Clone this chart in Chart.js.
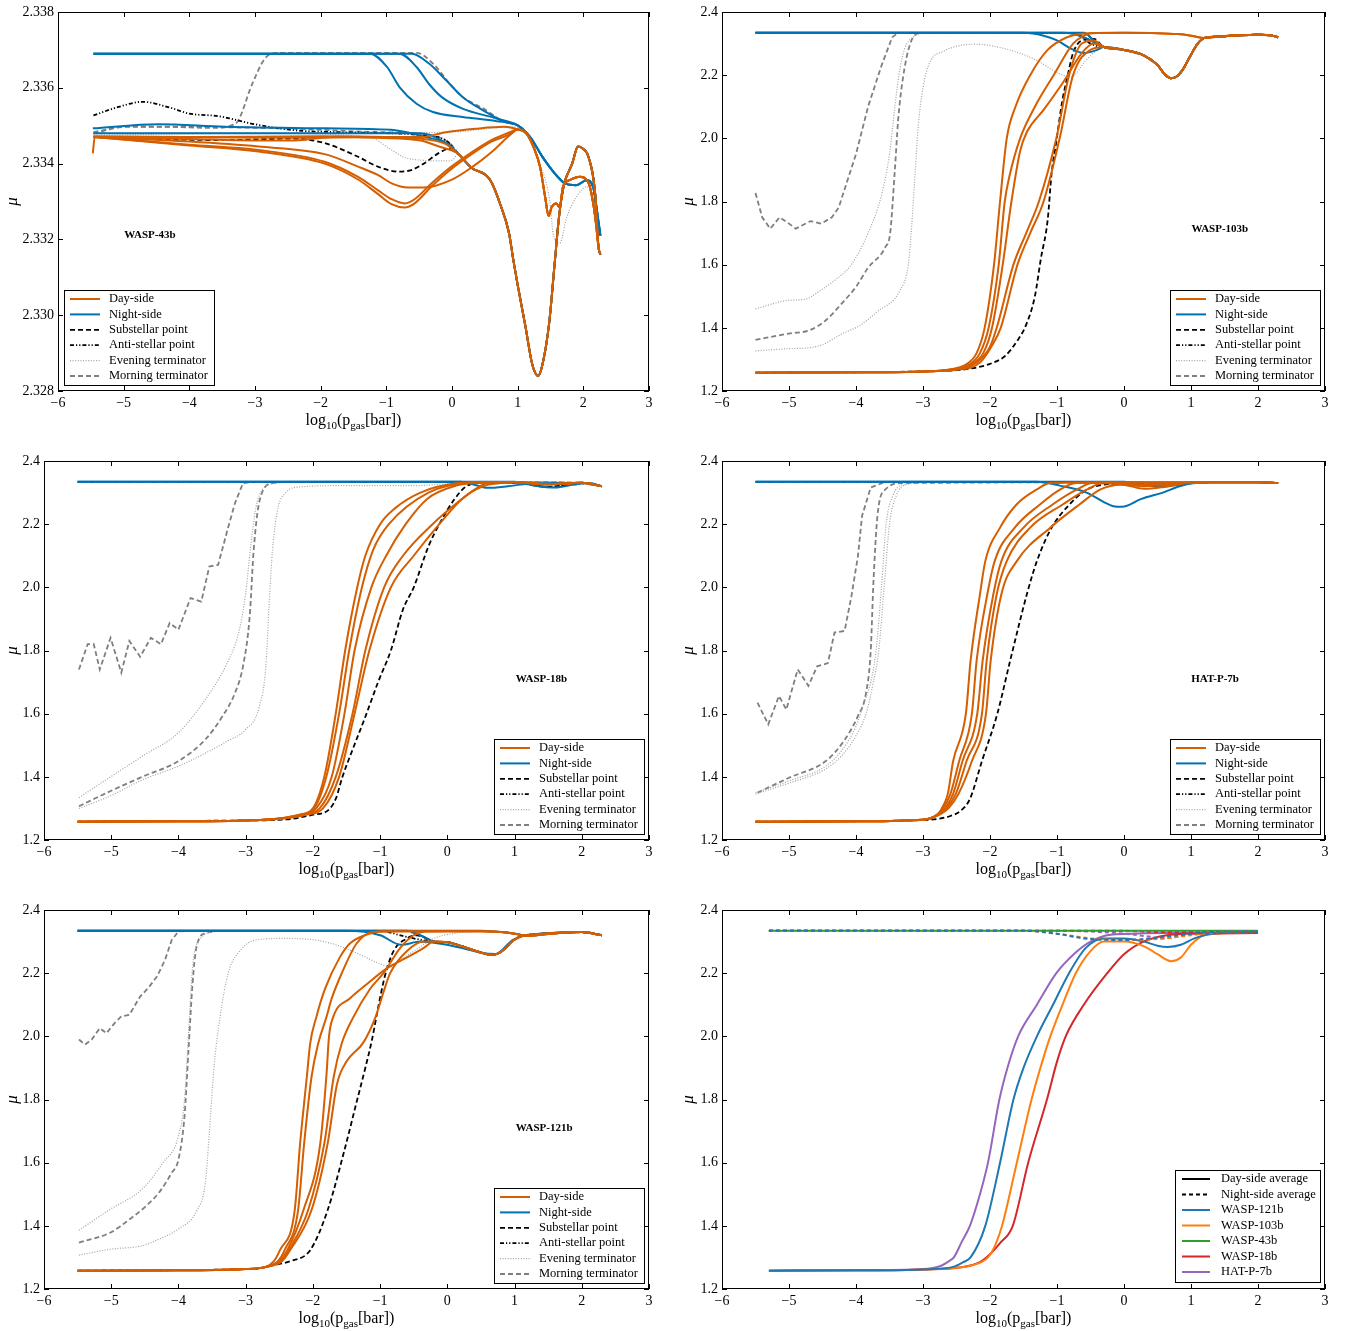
<!DOCTYPE html>
<html>
<head>
<meta charset="utf-8">
<title>Mean molecular weight profiles</title>
<script src="https://cdn.jsdelivr.net/npm/chart.js@4.4.1/dist/chart.umd.min.js"></script>
<style>
  html, body { margin: 0; padding: 0; background: #fff; }
  body { position: relative; width: 1350px; height: 1331px; overflow: hidden; }
  canvas { position: absolute; }
</style>
</head>
<body>
<canvas id="wasp43"></canvas>
<canvas id="wasp103"></canvas>
<canvas id="wasp18"></canvas>
<canvas id="hatp7"></canvas>
<canvas id="wasp121"></canvas>
<canvas id="averages"></canvas>
<script>
// Profiles: x = log10(p_gas [bar]), y = mean molecular weight mu
// Each curve is a list of [x, y] points.

// ---------- WASP-43b ----------
const W43_TAIL_TOP = [[1.0,2.33501],[1.19,2.3347],[1.38,2.33417],[1.57,2.33373],[1.73,2.33347],[1.89,2.33343],[2.05,2.33356],[2.15,2.33338],[2.22,2.3326],[2.26,2.3321]];
const W43_TAIL_DEEP = [[0.1,2.33425],[0.29,2.3339],[0.58,2.33357],[0.74,2.3329],[0.87,2.33215],[0.93,2.3315],[1.0,2.3308],[1.12,2.32969],[1.22,2.32872],[1.31,2.3284],[1.38,2.32872],[1.48,2.3298],[1.56,2.3313],[1.63,2.3326],[1.70,2.3334],[1.83,2.334],[1.92,2.33445],[1.99,2.3344],[2.08,2.33417],[2.18,2.33321],[2.23,2.33181],[2.26,2.3316]];
const W43_TAIL_SIDE = [[1.0,2.3349],[1.14,2.33478],[1.25,2.3344],[1.34,2.33392],[1.42,2.3331],[1.47,2.33262],[1.52,2.33286],[1.59,2.33295],[1.64,2.33284],[1.69,2.33339],[1.80,2.33357],[1.95,2.33365],[2.05,2.33357],[2.10,2.33339],[2.18,2.3326],[2.23,2.3318]];
const W43_TAIL_EVE = [[1.0,2.33497],[1.2,2.33465],[1.34,2.334],[1.49,2.3330],[1.54,2.33216],[1.64,2.3319],[1.75,2.3326],[1.90,2.33313],[2.05,2.33339],[2.13,2.33313],[2.23,2.3318]];

const W43_DAY = [
  [[-5.47,2.33427],[-5.44,2.3347],[-4.5,2.3347],[-2.5,2.33468],[-1.0,2.3347],[-0.48,2.3347],[-0.09,2.33483],[0.36,2.33492],[0.8,2.33497], ...W43_TAIL_SIDE],
  [[-5.46,2.33472],[-4.0,2.3347],[-2.0,2.33472],[-1.0,2.3347],[-0.5,2.33466],[-0.1,2.33452], ...W43_TAIL_DEEP],
  [[-5.46,2.3347],[-4.0,2.33465],[-3.04,2.33461],[-2.4,2.33461],[-1.76,2.33471],[-1.12,2.33468],[-0.48,2.33461],[-0.2,2.33445], ...W43_TAIL_DEEP],
  [[-5.46,2.3347],[-4.0,2.33458],[-2.95,2.33445],[-1.94,2.33425],[-1.43,2.33392],[-1.13,2.3337],[-0.92,2.33348],[-0.67,2.33337],[-0.42,2.33337],[-0.01,2.33357],[0.3,2.3339],[0.6,2.3343],[0.9,2.33478], ...W43_TAIL_SIDE],
  [[-5.46,2.3347],[-4.0,2.3345],[-2.95,2.33436],[-1.94,2.33405],[-1.43,2.33365],[-1.13,2.3333],[-0.92,2.33306],[-0.72,2.33295],[-0.57,2.33306],[-0.31,2.33348],[-0.01,2.33392],[0.3,2.3343],[0.6,2.33462],[0.87,2.33482], ...W43_TAIL_SIDE],
  [[-5.46,2.3347],[-4.0,2.33448],[-2.95,2.33432],[-1.94,2.334],[-1.43,2.33358],[-1.13,2.3332],[-0.92,2.33293],[-0.72,2.33284],[-0.57,2.33295],[-0.31,2.3334],[-0.01,2.33386],[0.3,2.33425],[0.6,2.33458],[0.85,2.33475], ...W43_TAIL_SIDE]
];
const W43_NIGHT = [
  [[-5.46,2.3369],[-1.25,2.3369],[-0.99,2.33655],[-0.80,2.33602],[-0.54,2.33558],[-0.29,2.33536],[0.16,2.33523],[0.68,2.33512], ...W43_TAIL_TOP],
  [[-5.46,2.3369],[-0.8,2.3369],[-0.54,2.33655],[-0.35,2.3361],[-0.16,2.33576],[0.16,2.33545],[0.68,2.33519], ...W43_TAIL_TOP],
  [[-5.46,2.3369],[-0.61,2.3369],[-0.35,2.33664],[-0.09,2.3362],[0.16,2.33576],[0.48,2.3354],[0.8,2.3351], ...W43_TAIL_TOP],
  [[-5.47,2.33493],[-4.48,2.33504],[-3.46,2.33497],[-1.94,2.33493],[-0.93,2.33489],[-0.42,2.33471],[-0.05,2.3345], ...W43_TAIL_DEEP],
  [[-5.46,2.3348],[-3.0,2.3348],[-0.48,2.3348],[-0.16,2.33461], ...W43_TAIL_DEEP]
];
const W43_SUB = [
  [[-5.46,2.3347],[-3.5,2.33462],[-2.4,2.33466],[-1.94,2.33454],[-1.43,2.33418],[-1.13,2.33392],[-0.82,2.33379],[-0.62,2.33383],[-0.42,2.33401],[-0.21,2.33427],[-0.02,2.3344], ...W43_TAIL_DEEP]
];
const W43_ANTI = [
  [[-5.46,2.33527],[-5.09,2.33549],[-4.71,2.33563],[-4.32,2.33549],[-4.0,2.33532],[-3.55,2.33525],[-3.04,2.33505],[-2.4,2.33488],[-1.76,2.33483],[-1.12,2.33481],[-0.48,2.33475],[-0.09,2.33461], ...W43_TAIL_DEEP]
];
const W43_EVE = [
  [[-5.46,2.33475],[-3.0,2.3348],[-1.25,2.3347],[-0.99,2.33444],[-0.73,2.33417],[-0.48,2.33409],[-0.09,2.33407],[0.0,2.33409], ...W43_TAIL_DEEP],
  [[-5.46,2.3348],[-1.1,2.33481],[0.0,2.33483],[0.58,2.33493],[0.85,2.33497], ...W43_TAIL_EVE]
];
const W43_MORN = [
  [[-5.46,2.33483],[-4.96,2.33497],[-4.32,2.33497],[-3.68,2.33494],[-3.3,2.33505],[-3.04,2.33611],[-2.85,2.33677],[-2.66,2.33692],[-0.54,2.33692],[-0.29,2.33664],[-0.03,2.3361],[0.16,2.33576],[0.48,2.33545],[0.8,2.3351], ...W43_TAIL_TOP],
  [[-5.46,2.33479],[-4.96,2.33498],[-4.0,2.33497],[-2.4,2.33492],[-1.12,2.33483],[-0.48,2.33479],[-0.03,2.33453], ...W43_TAIL_DEEP]
];

// ---------- WASP-103b ----------
const W103_DIP = [[-0.3,2.289],[0.0,2.28],[0.3,2.262],[0.5,2.232],[0.6,2.205],[0.7,2.19],[0.78,2.195],[0.87,2.215],[1.0,2.265],[1.1,2.30],[1.2,2.318],[1.4,2.322],[1.7,2.326],[2.0,2.328],[2.2,2.326],[2.3,2.32]];
const W103_PLATEAU = [[-0.5,2.333],[0.0,2.334],[0.5,2.333],[0.8,2.33],[1.0,2.325],[1.2,2.318],[1.4,2.322],[1.7,2.326],[2.0,2.328],[2.2,2.326],[2.3,2.32]];
const W103_DAY = [
  [[-5.5,1.258],[-4,1.259],[-3,1.262],[-2.6,1.268],[-2.35,1.285],[-2.2,1.32],[-2.08,1.4],[-1.94,1.6],[-1.85,1.8],[-1.75,2.0],[-1.62,2.1],[-1.4,2.2],[-1.14,2.28],[-0.85,2.32],[-0.6,2.332], ...W103_PLATEAU],
  [[-5.5,1.258],[-4,1.259],[-3,1.262],[-2.6,1.267],[-2.3,1.285],[-2.15,1.32],[-2.02,1.4],[-1.87,1.6],[-1.78,1.8],[-1.71,1.88],[-1.55,2.0],[-1.33,2.1],[-1.05,2.2],[-0.76,2.3],[-0.6,2.325], ...W103_PLATEAU],
  [[-5.5,1.258],[-4,1.259],[-3,1.262],[-2.6,1.267],[-2.3,1.283],[-2.1,1.32],[-1.97,1.4],[-1.81,1.6],[-1.68,1.8],[-1.55,1.96],[-1.45,2.02],[-1.2,2.09],[-0.9,2.18],[-0.63,2.27],[-0.45,2.3], ...W103_DIP],
  [[-5.5,1.258],[-4,1.259],[-3,1.262],[-2.5,1.268],[-2.2,1.29],[-2.0,1.34],[-1.90,1.4],[-1.65,1.6],[-1.46,1.7],[-1.27,1.8],[-1.01,2.0],[-0.82,2.2],[-0.63,2.3],[-0.45,2.31], ...W103_DIP],
  [[-5.5,1.258],[-4,1.259],[-3,1.262],[-2.5,1.267],[-2.15,1.29],[-1.98,1.34],[-1.84,1.4],[-1.59,1.6],[-1.4,1.7],[-1.2,1.8],[-0.96,2.0],[-0.76,2.2],[-0.5,2.28], ...W103_DIP]
];
const W103_NIGHT = [
  [[-5.5,2.334],[-1.5,2.334],[-1.2,2.325],[-1.0,2.31],[-0.8,2.285],[-0.6,2.27],[-0.4,2.28], ...W103_DIP],
  [[-5.5,2.334],[-0.9,2.334],[-0.6,2.32],[-0.4,2.298], ...W103_DIP],
  [[-5.5,2.334],[-0.6,2.334],[-0.45,2.31], ...W103_DIP]
];
const W103_SUB = [
  [[-5.5,1.258],[-3,1.262],[-2.5,1.266],[-2.16,1.276],[-1.95,1.29],[-1.78,1.31],[-1.59,1.36],[-1.46,1.41],[-1.33,1.50],[-1.24,1.62],[-1.14,1.74],[-1.08,1.89],[-1.01,1.99],[-0.92,2.12],[-0.85,2.19],[-0.76,2.27],[-0.63,2.31],[-0.45,2.315], ...W103_DIP]
];
const W103_ANTI = [
  [[-5.5,2.334],[-1.0,2.334],[-0.7,2.33],[-0.5,2.30],[-0.4,2.292], ...W103_DIP]
];
const W103_EVE = [
  [[-5.5,1.46],[-5.0,1.487],[-4.77,1.49],[-4.52,1.52],[-4.32,1.55],[-4.07,1.60],[-3.82,1.70],[-3.62,1.82],[-3.5,1.95],[-3.42,2.1],[-3.36,2.2],[-3.28,2.28],[-3.15,2.32],[-2.9,2.334],[-0.6,2.334],[-0.45,2.31], ...W103_DIP],
  [[-5.5,1.327],[-5.0,1.334],[-4.7,1.337],[-4.52,1.345],[-4.2,1.382],[-3.94,1.408],[-3.69,1.45],[-3.34,1.52],[-3.22,1.60],[-3.17,1.72],[-3.13,1.85],[-3.07,2.04],[-3.0,2.16],[-2.9,2.24],[-2.7,2.275],[-2.45,2.294],[-2.22,2.298],[-1.78,2.284],[-1.33,2.25],[-1.01,2.21],[-0.79,2.194],[-0.57,2.247],[-0.4,2.28], ...W103_DIP]
];
const W103_MORN = [
  [[-5.5,1.827],[-5.4,1.75],[-5.28,1.714],[-5.14,1.75],[-5.0,1.73],[-4.9,1.714],[-4.68,1.738],[-4.52,1.73],[-4.36,1.75],[-4.26,1.78],[-4.0,1.95],[-3.82,2.10],[-3.62,2.23],[-3.46,2.32],[-3.37,2.334],[-0.6,2.334],[-0.45,2.31], ...W103_DIP],
  [[-5.5,1.362],[-5.0,1.382],[-4.7,1.392],[-4.45,1.424],[-4.2,1.48],[-4.0,1.53],[-3.82,1.59],[-3.56,1.656],[-3.49,1.70],[-3.42,1.9],[-3.37,2.06],[-3.3,2.19],[-3.19,2.30],[-3.04,2.334],[-0.6,2.334],[-0.45,2.31], ...W103_DIP]
];

// ---------- WASP-18b ----------
const W18_END = [[1.0,2.333],[1.5,2.326],[2.0,2.331],[2.3,2.32]];
const W18_DAY = [
  [[-5.5,1.258],[-4,1.259],[-3,1.262],[-2.5,1.268],[-2.2,1.28],[-2.0,1.30],[-1.83,1.4],[-1.66,1.6],[-1.52,1.8],[-1.34,2.0],[-1.22,2.1],[-1.0,2.2],[-0.78,2.25],[-0.4,2.3],[0.16,2.33],[0.5,2.333], ...W18_END],
  [[-5.5,1.258],[-4,1.259],[-3,1.262],[-2.5,1.268],[-2.2,1.279],[-2.0,1.295],[-1.8,1.4],[-1.61,1.6],[-1.46,1.8],[-1.27,2.0],[-1.1,2.12],[-0.87,2.2],[-0.28,2.3],[0.3,2.33],[0.6,2.333], ...W18_END],
  [[-5.5,1.258],[-4,1.259],[-3,1.262],[-2.5,1.267],[-2.2,1.278],[-1.95,1.30],[-1.72,1.4],[-1.53,1.6],[-1.38,1.8],[-1.13,2.0],[-0.91,2.1],[-0.62,2.2],[-0.3,2.28],[0.1,2.32],[0.4,2.33], ...W18_END],
  [[-5.5,1.258],[-4,1.259],[-3,1.262],[-2.5,1.267],[-2.15,1.28],[-1.9,1.30],[-1.66,1.4],[-1.41,1.6],[-1.22,1.8],[-0.94,2.0],[-0.66,2.1],[-0.22,2.2],[0.16,2.27],[0.41,2.31],[0.6,2.33], ...W18_END],
  [[-5.5,1.258],[-4,1.259],[-3,1.262],[-2.5,1.267],[-2.1,1.28],[-1.85,1.30],[-1.61,1.4],[-1.38,1.6],[-1.16,1.8],[-0.84,2.0],[-0.5,2.1],[-0.12,2.2],[0.22,2.28],[0.53,2.32],[0.8,2.33], ...W18_END]
];
const W18_NIGHT = [
  [[-5.5,2.334],[0.2,2.334],[0.4,2.325],[0.6,2.315],[0.9,2.32],[1.2,2.328],[1.6,2.33],[2.0,2.331],[2.3,2.32]],
  [[-5.5,2.334],[1.0,2.334],[1.3,2.322],[1.6,2.316],[1.9,2.326],[2.1,2.33],[2.3,2.32]]
];
const W18_SUB = [
  [[-5.5,1.258],[-3,1.262],[-2.4,1.265],[-2.0,1.28],[-1.78,1.293],[-1.66,1.33],[-1.56,1.4],[-1.41,1.486],[-1.22,1.59],[-1.03,1.70],[-0.84,1.8],[-0.66,1.93],[-0.5,2.0],[-0.28,2.13],[-0.12,2.2],[0.1,2.277],[0.28,2.32],[0.47,2.33],[1.0,2.332],[1.5,2.318],[2.0,2.33],[2.3,2.32]]
];
const W18_ANTI = [
  [[-5.5,2.334],[0.3,2.334],[0.6,2.33],[1.0,2.33],[1.5,2.318],[1.9,2.326],[2.1,2.33],[2.3,2.32]]
];
const W18_EVE = [
  [[-5.48,1.334],[-5.01,1.40],[-4.54,1.465],[-4.0,1.54],[-3.6,1.645],[-3.3,1.75],[-3.1,1.86],[-3.0,1.98],[-2.93,2.12],[-2.85,2.25],[-2.75,2.31],[-2.55,2.33],[-2.3,2.334],[1.0,2.334],[2.0,2.33],[2.3,2.32]],
  [[-5.48,1.30],[-5.01,1.34],[-4.54,1.39],[-4.0,1.434],[-3.6,1.475],[-3.3,1.51],[-3.0,1.55],[-2.8,1.62],[-2.7,1.75],[-2.65,1.95],[-2.6,2.12],[-2.52,2.25],[-2.4,2.3],[-2.2,2.318],[-1.5,2.322],[-0.5,2.322],[0.2,2.33],[1.0,2.333],[2.0,2.33],[2.3,2.32]]
];
const W18_MORN = [
  [[-5.48,1.74],[-5.35,1.82],[-5.26,1.82],[-5.17,1.74],[-5.01,1.84],[-4.85,1.73],[-4.73,1.83],[-4.57,1.78],[-4.41,1.84],[-4.26,1.82],[-4.13,1.887],[-4.0,1.866],[-3.82,1.966],[-3.66,1.955],[-3.54,2.066],[-3.41,2.071],[-3.26,2.19],[-3.16,2.266],[-3.04,2.33],[-2.9,2.334],[1.0,2.334],[2.0,2.33],[2.3,2.32]],
  [[-5.48,1.307],[-5.01,1.355],[-4.54,1.40],[-4.0,1.45],[-3.6,1.518],[-3.35,1.59],[-3.16,1.665],[-3.04,1.75],[-2.94,1.908],[-2.88,2.12],[-2.79,2.277],[-2.6,2.33],[-2.3,2.334],[1.0,2.334],[2.0,2.33],[2.3,2.32]]
];

// ---------- HAT-P-7b ----------
const HP7_END = [[1.3,2.333],[2.0,2.333],[2.3,2.33]];
const HP7_DAY = [
  [[-5.5,1.258],[-4,1.259],[-3.0,1.264],[-2.9,1.268],[-2.78,1.282],[-2.72,1.30],[-2.63,1.346],[-2.55,1.45],[-2.36,1.6],[-2.29,1.767],[-2.15,1.978],[-2.07,2.083],[-1.85,2.189],[-1.6,2.263],[-1.3,2.31],[-1.1,2.33],[0.0,2.333], ...HP7_END],
  [[-5.5,1.258],[-4,1.259],[-3.0,1.264],[-2.9,1.268],[-2.78,1.282],[-2.70,1.30],[-2.59,1.346],[-2.46,1.45],[-2.27,1.6],[-2.20,1.767],[-2.04,1.978],[-1.93,2.083],[-1.63,2.189],[-1.25,2.263],[-0.95,2.31],[-0.72,2.33],[0.2,2.333],[0.5,2.328], ...HP7_END],
  [[-5.5,1.258],[-4,1.259],[-3.0,1.264],[-2.9,1.268],[-2.76,1.282],[-2.67,1.30],[-2.55,1.346],[-2.41,1.45],[-2.19,1.6],[-2.11,1.767],[-1.95,1.978],[-1.83,2.083],[-1.50,2.189],[-1.06,2.263],[-0.7,2.31],[-0.47,2.33],[0.0,2.325],[0.3,2.312],[0.6,2.318],[1.0,2.332], ...HP7_END],
  [[-5.5,1.258],[-4,1.259],[-3.0,1.264],[-2.9,1.268],[-2.75,1.282],[-2.65,1.30],[-2.51,1.346],[-2.35,1.45],[-2.12,1.6],[-2.05,1.767],[-1.90,1.978],[-1.75,2.083],[-1.40,2.189],[-0.91,2.263],[-0.55,2.31],[-0.3,2.33],[0.5,2.325],[1.0,2.332], ...HP7_END],
  [[-5.5,1.258],[-4,1.259],[-3.0,1.264],[-2.9,1.268],[-2.74,1.282],[-2.62,1.30],[-2.47,1.346],[-2.27,1.45],[-2.06,1.6],[-1.99,1.767],[-1.83,1.978],[-1.60,2.083],[-1.10,2.189],[-0.66,2.263],[-0.35,2.31],[-0.05,2.325],[0.3,2.32],[0.7,2.325],[1.0,2.332], ...HP7_END]
];
const HP7_NIGHT = [
  [[-5.5,2.334],[-1.3,2.334],[-0.96,2.322],[-0.56,2.30],[-0.3,2.27],[-0.16,2.257],[-0.03,2.255],[0.26,2.28],[0.58,2.30],[0.83,2.32],[1.03,2.33], ...HP7_END],
  [[-5.5,2.334],[0.0,2.334],[0.3,2.325],[0.6,2.32],[0.9,2.328], ...HP7_END]
];
const HP7_SUB = [
  [[-5.5,1.258],[-3,1.263],[-2.75,1.268],[-2.59,1.276],[-2.44,1.292],[-2.3,1.33],[-2.12,1.45],[-1.89,1.6],[-1.70,1.767],[-1.45,1.978],[-1.30,2.083],[-1.08,2.189],[-0.81,2.263],[-0.55,2.31],[-0.3,2.325],[0.0,2.328],[0.5,2.32],[1.0,2.33], ...HP7_END]
];
const HP7_ANTI = [
  [[-5.5,2.334],[-0.5,2.334],[0.0,2.33],[0.5,2.325],[1.0,2.33], ...HP7_END]
];
const HP7_EVE = [
  [[-5.5,1.35],[-5.0,1.387],[-4.45,1.434],[-4.2,1.487],[-4.0,1.56],[-3.88,1.635],[-3.78,1.70],[-3.70,1.80],[-3.62,2.0],[-3.55,2.2],[-3.45,2.29],[-3.3,2.325],[-3.0,2.332], ...HP7_END],
  [[-5.5,1.345],[-5.0,1.38],[-4.45,1.425],[-4.2,1.47],[-4.0,1.53],[-3.85,1.6],[-3.74,1.7],[-3.66,1.80],[-3.58,2.0],[-3.5,2.2],[-3.4,2.29],[-3.25,2.325],[-2.9,2.332], ...HP7_END]
];
const HP7_MORN = [
  [[-5.47,1.635],[-5.31,1.566],[-5.15,1.656],[-5.04,1.613],[-4.87,1.74],[-4.71,1.688],[-4.58,1.75],[-4.42,1.76],[-4.32,1.857],[-4.17,1.862],[-4.07,1.97],[-3.97,2.10],[-3.91,2.226],[-3.78,2.316],[-3.56,2.334], ...HP7_END],
  [[-5.47,1.35],[-5.0,1.397],[-4.45,1.45],[-4.2,1.508],[-3.97,1.593],[-3.85,1.666],[-3.78,1.80],[-3.74,2.015],[-3.68,2.226],[-3.56,2.31],[-3.31,2.33], ...HP7_END]
];

// ---------- WASP-121b ----------
const W121_DIP = [[-0.2,2.30],[0.0,2.298],[0.22,2.285],[0.4,2.272],[0.54,2.263],[0.65,2.258],[0.75,2.262],[0.87,2.28],[0.97,2.302],[1.1,2.317],[1.25,2.322],[1.5,2.326],[2.0,2.33],[2.3,2.32]];
const W121_PLATEAU = [[0.0,2.333],[0.5,2.333],[0.8,2.33],[1.0,2.325],[1.2,2.318],[1.5,2.324],[2.0,2.33],[2.3,2.32]];
const W121_DAY = [
  [[-5.5,1.258],[-4,1.259],[-3,1.263],[-2.7,1.27],[-2.58,1.288],[-2.49,1.323],[-2.27,1.45],[-2.19,1.661],[-2.09,1.872],[-2.04,1.978],[-1.95,2.06],[-1.82,2.15],[-1.6,2.25],[-1.45,2.294],[-1.2,2.322],[-1.0,2.333], ...W121_PLATEAU],
  [[-5.5,1.258],[-4,1.259],[-3,1.263],[-2.7,1.27],[-2.52,1.288],[-2.42,1.323],[-2.22,1.45],[-2.13,1.661],[-2.02,1.872],[-1.92,1.978],[-1.8,2.06],[-1.72,2.12],[-1.57,2.2],[-1.35,2.294],[-1.1,2.33],[-0.5,2.333], ...W121_PLATEAU],
  [[-5.5,1.258],[-4,1.259],[-3,1.263],[-2.7,1.27],[-2.5,1.288],[-2.38,1.323],[-2.14,1.45],[-1.89,1.661],[-1.80,1.872],[-1.76,2.0],[-1.70,2.06],[-1.45,2.12],[-1.2,2.165],[-0.9,2.215],[-0.6,2.25],[-0.35,2.28], ...W121_DIP],
  [[-5.5,1.258],[-4,1.259],[-3,1.263],[-2.7,1.27],[-2.48,1.288],[-2.36,1.323],[-2.07,1.45],[-1.83,1.661],[-1.69,1.872],[-1.57,1.978],[-1.40,2.06],[-1.15,2.15],[-0.95,2.2],[-0.70,2.28],[-0.5,2.32],[-0.3,2.332], ...W121_PLATEAU],
  [[-5.5,1.258],[-4,1.259],[-3,1.263],[-2.7,1.27],[-2.46,1.288],[-2.34,1.323],[-2.02,1.45],[-1.78,1.661],[-1.64,1.85],[-1.5,1.92],[-1.25,1.98],[-1.07,2.06],[-0.95,2.14],[-0.85,2.2],[-0.6,2.27],[-0.35,2.3], ...W121_DIP]
];
const W121_NIGHT = [
  [[-5.5,2.334],[-1.5,2.334],[-1.0,2.32],[-0.69,2.29],[-0.40,2.30],[-0.15,2.295],[0.22,2.28],[0.54,2.263],[0.72,2.261],[0.97,2.305],[1.16,2.32],[1.47,2.326],[2.0,2.33],[2.3,2.32]],
  [[-5.5,2.334],[-0.6,2.334],[-0.35,2.315], ...W121_DIP],
  [[-5.5,2.334],[0.5,2.334],[1.0,2.325],[1.2,2.318],[1.5,2.324],[2.0,2.33],[2.3,2.32]]
];
const W121_SUB = [
  [[-5.5,1.258],[-3,1.263],[-2.8,1.265],[-2.6,1.275],[-2.34,1.288],[-2.04,1.323],[-1.78,1.45],[-1.53,1.64],[-1.34,1.8],[-1.22,1.9],[-1.12,1.99],[-1.03,2.09],[-0.93,2.19],[-0.8,2.27],[-0.6,2.31],[-0.45,2.32], ...W121_DIP]
];
const W121_ANTI = [
  [[-5.5,2.334],[-1.0,2.334],[-0.7,2.32],[-0.5,2.31], ...W121_DIP]
];
const W121_EVE = [
  [[-5.48,1.386],[-5.01,1.453],[-4.54,1.516],[-4.23,1.60],[-4.0,1.684],[-3.91,1.80],[-3.85,2.01],[-3.79,2.22],[-3.69,2.305],[-3.41,2.332],[-0.3,2.334], ...W121_PLATEAU],
  [[-5.48,1.307],[-5.01,1.326],[-4.54,1.337],[-4.29,1.358],[-4.0,1.39],[-3.73,1.447],[-3.6,1.537],[-3.54,1.695],[-3.47,1.905],[-3.38,2.063],[-3.26,2.2],[-3.07,2.274],[-2.85,2.305],[-2.41,2.31],[-1.97,2.305],[-1.66,2.29],[-1.34,2.263],[-1.03,2.232],[-0.84,2.221],[-0.66,2.247],[-0.40,2.284],[-0.2,2.31],[0.1,2.326],[0.4,2.332],[0.8,2.33],[1.0,2.325],[1.2,2.318],[1.5,2.324],[2.0,2.33],[2.3,2.32]]
];
const W121_MORN = [
  [[-5.48,1.99],[-5.39,1.974],[-5.29,1.99],[-5.17,2.026],[-5.07,2.01],[-4.95,2.042],[-4.85,2.063],[-4.73,2.068],[-4.57,2.126],[-4.45,2.153],[-4.32,2.189],[-4.2,2.242],[-4.1,2.305],[-4.0,2.332],[-3.8,2.334],[-0.6,2.334],[-0.35,2.315], ...W121_DIP],
  [[-5.48,1.347],[-5.01,1.379],[-4.73,1.42],[-4.48,1.463],[-4.29,1.505],[-4.1,1.568],[-4.0,1.61],[-3.91,1.747],[-3.85,1.958],[-3.79,2.168],[-3.73,2.284],[-3.6,2.326],[-3.3,2.334],[-0.6,2.334],[-0.35,2.315], ...W121_DIP]
];

// ---------- Day/night averages ----------
const AVG_DAY_W121 = [[-5.3,1.258],[-4,1.259],[-3,1.262],[-2.55,1.27],[-2.4,1.285],[-2.29,1.3],[-2.07,1.4],[-1.85,1.6],[-1.65,1.8],[-1.5,1.9],[-1.30,2.0],[-1.06,2.1],[-0.82,2.2],[-0.57,2.28],[-0.3,2.31],[0.0,2.31],[0.3,2.30],[0.5,2.287],[0.65,2.283],[0.85,2.29],[1.05,2.31],[1.3,2.325],[2.0,2.33]];
const AVG_DAY_W103 = [[-5.3,1.258],[-4,1.259],[-3,1.262],[-2.5,1.267],[-2.25,1.276],[-2.03,1.3],[-1.92,1.34],[-1.82,1.4],[-1.6,1.6],[-1.38,1.8],[-1.22,1.92],[-1.1,2.0],[-0.88,2.12],[-0.72,2.2],[-0.5,2.27],[-0.3,2.30],[0.0,2.30],[0.3,2.285],[0.5,2.26],[0.7,2.238],[0.85,2.25],[1.0,2.29],[1.2,2.32],[2.0,2.33]];
const AVG_DAY_W43 = [[-5.3,2.334],[2.0,2.334]];
const AVG_DAY_W18 = [[-5.3,1.258],[-4,1.259],[-3,1.262],[-2.4,1.27],[-2.15,1.285],[-2.0,1.31],[-1.85,1.345],[-1.66,1.4],[-1.43,1.6],[-1.15,1.8],[-1.0,1.92],[-0.87,2.0],[-0.6,2.1],[-0.25,2.2],[0.0,2.26],[0.29,2.3],[0.64,2.32],[1.0,2.325],[2.0,2.327]];
const AVG_DAY_HP7 = [[-5.3,1.258],[-4,1.259],[-3,1.263],[-2.75,1.272],[-2.6,1.29],[-2.54,1.3],[-2.42,1.35],[-2.3,1.4],[-2.15,1.5],[-2.03,1.6],[-1.86,1.8],[-1.74,1.9],[-1.58,2.0],[-1.3,2.1],[-1.01,2.2],[-0.75,2.26],[-0.5,2.3],[-0.2,2.322],[0.3,2.326],[1.0,2.328],[2.0,2.33]];
const AVG_NIGHT_W121 = [[-5.3,2.334],[-1.5,2.334],[-1.0,2.325],[-0.6,2.31],[0.0,2.305],[0.4,2.31],[0.8,2.32],[1.3,2.33],[2.0,2.333]];
const AVG_NIGHT_W103 = [[-5.3,2.334],[-1.5,2.334],[-0.9,2.322],[-0.5,2.31],[0.2,2.305],[0.6,2.31],[1.0,2.32],[1.4,2.33],[2.0,2.333]];
const AVG_NIGHT_W43 = [[-5.3,2.334],[2.0,2.333]];
const AVG_NIGHT_W18 = [[-5.3,2.334],[0.0,2.334],[0.5,2.33],[1.0,2.328],[2.0,2.33]];
const AVG_NIGHT_HP7 = [[-5.3,2.334],[-1.0,2.334],[0.0,2.325],[0.4,2.315],[0.6,2.31],[0.8,2.315],[1.0,2.325],[1.5,2.332],[2.0,2.334]];

const PLANET_COLORS = { w121: '#1f77b4', w103: '#ff7f0e', w43: '#2ca02c', w18: '#d62728', hp7: '#9467bd' };

// ---------- drawing ----------
const SERIF = '"Liberation Serif", "DejaVu Serif", serif';
const PLOT_H = 379;

const LINE = {
  day:   { color: '#D55E00', width: 2,   dash: [] },
  night: { color: '#0072B2', width: 2,   dash: [] },
  sub:   { color: '#000000', width: 1.8, dash: [5, 3] },
  anti:  { color: '#000000', width: 1.8, dash: [4, 2, 1.2, 2, 1.2, 2] },
  eve:   { color: '#a3a3a3', width: 1.2, dash: [1, 1.6] },
  morn:  { color: '#7f7f7f', width: 1.8, dash: [5, 3] }
};

const MAIN_LEGEND = [
  ['Day-side', LINE.day], ['Night-side', LINE.night], ['Substellar point', LINE.sub],
  ['Anti-stellar point', LINE.anti], ['Evening terminator', LINE.eve], ['Morning terminator', LINE.morn]
];
const AVG_LEGEND = [
  ['Day-side average', { color: '#000', width: 2, dash: [] }],
  ['Night-side average', { color: '#000', width: 2, dash: [4, 3] }],
  ['WASP-121b', { color: PLANET_COLORS.w121, width: 2, dash: [] }],
  ['WASP-103b', { color: PLANET_COLORS.w103, width: 2, dash: [] }],
  ['WASP-43b', { color: PLANET_COLORS.w43, width: 2, dash: [] }],
  ['WASP-18b', { color: PLANET_COLORS.w18, width: 2, dash: [] }],
  ['HAT-P-7b', { color: PLANET_COLORS.hp7, width: 2, dash: [] }]
];

function lineSet(curves, style, jagged = []) {
  return curves.map((pts, i) => ({
    data: pts,
    borderColor: style.color,
    borderWidth: style.width,
    borderDash: style.dash,
    pointRadius: 0,
    fill: false,
    tension: 0,
    cubicInterpolationMode: jagged.includes(i) ? 'default' : 'monotone'
  }));
}

function profileSets(day, night, sub, anti, eve, morn, jaggedMorn) {
  return [
    ...lineSet(day, LINE.day), ...lineSet(night, LINE.night), ...lineSet(sub, LINE.sub),
    ...lineSet(anti, LINE.anti), ...lineSet(eve, LINE.eve), ...lineSet(morn, LINE.morn, jaggedMorn)
  ];
}

function averageSets() {
  const solid = (pts, c) => lineSet([pts], { color: c, width: 2, dash: [] });
  const dashed = (pts, c) => lineSet([pts], { color: c, width: 2, dash: [4, 3] });
  return [
    ...dashed(AVG_NIGHT_W121, PLANET_COLORS.w121), ...dashed(AVG_NIGHT_W103, PLANET_COLORS.w103),
    ...dashed(AVG_NIGHT_W43, PLANET_COLORS.w43), ...dashed(AVG_NIGHT_W18, PLANET_COLORS.w18),
    ...dashed(AVG_NIGHT_HP7, PLANET_COLORS.hp7),
    ...solid(AVG_DAY_W121, PLANET_COLORS.w121), ...solid(AVG_DAY_W103, PLANET_COLORS.w103),
    ...solid(AVG_DAY_W43, PLANET_COLORS.w43), ...solid(AVG_DAY_W18, PLANET_COLORS.w18),
    ...solid(AVG_DAY_HP7, PLANET_COLORS.hp7)
  ];
}

function strokeSample(ctx, style, x0, x1, y) {
  ctx.save();
  ctx.strokeStyle = style.color;
  ctx.lineWidth = style.width;
  ctx.setLineDash(style.dash);
  ctx.beginPath();
  ctx.moveTo(x0, y);
  ctx.lineTo(x1, y);
  ctx.stroke();
  ctx.restore();
}

function decorPlugin(p) {
  return {
    id: 'decor',
    afterDraw(chart) {
      const { ctx, chartArea: a, scales: { x, y } } = chart;
      ctx.save();
      // frame
      ctx.strokeStyle = '#000';
      ctx.lineWidth = 1;
      ctx.setLineDash([]);
      ctx.strokeRect(a.left + 0.5, a.top + 0.5, a.right - a.left - 1, a.bottom - a.top - 1);
      // inward ticks on all four sides
      ctx.beginPath();
      x.ticks.forEach(t => {
        const px = Math.round(x.getPixelForValue(t.value)) + 0.5;
        ctx.moveTo(px, a.bottom); ctx.lineTo(px, a.bottom - 5);
        ctx.moveTo(px, a.top); ctx.lineTo(px, a.top + 5);
      });
      y.ticks.forEach(t => {
        const py = Math.round(y.getPixelForValue(t.value)) + 0.5;
        ctx.moveTo(a.left, py); ctx.lineTo(a.left + 5, py);
        ctx.moveTo(a.right, py); ctx.lineTo(a.right - 5, py);
      });
      ctx.stroke();

      // x axis title: log10(p_gas[bar])
      const parts = [['log', 16, 0], ['10', 11, 4], ['(p', 16, 0], ['gas', 11, 4], ['[bar])', 16, 0]];
      ctx.fillStyle = '#000';
      ctx.textBaseline = 'alphabetic';
      ctx.textAlign = 'left';
      let total = 0;
      parts.forEach(([s, size]) => { ctx.font = size + 'px ' + SERIF; total += ctx.measureText(s).width; });
      let cx = (a.left + a.right) / 2 - total / 2;
      const base = a.bottom + 34;
      parts.forEach(([s, size, dy]) => {
        ctx.font = size + 'px ' + SERIF;
        ctx.fillText(s, cx, base + dy);
        cx += ctx.measureText(s).width;
      });

      // y axis title
      ctx.save();
      ctx.translate(13, (a.top + a.bottom) / 2);
      ctx.rotate(-Math.PI / 2);
      ctx.font = 'italic 17px ' + SERIF;
      ctx.textAlign = 'center';
      ctx.textBaseline = 'middle';
      ctx.fillText('\u03bc', 0, 0);
      ctx.restore();

      // planet name
      if (p.name) {
        ctx.font = 'bold 11px ' + SERIF;
        ctx.textAlign = 'center';
        ctx.textBaseline = 'middle';
        ctx.fillText(p.name.text, x.getPixelForValue(p.name.x), y.getPixelForValue(p.name.y));
      }

      // legend box
      const L = p.legend;
      const bx = L.side === 'left' ? a.left + 6 : a.right - 5 - L.w;
      const by = a.bottom - L.bottom - L.h;
      ctx.fillStyle = '#fff';
      ctx.fillRect(bx, by, L.w, L.h);
      ctx.strokeStyle = '#000';
      ctx.lineWidth = 1;
      ctx.strokeRect(Math.round(bx) + 0.5, Math.round(by) + 0.5, L.w, L.h);
      ctx.font = '12.5px ' + SERIF;
      ctx.textAlign = 'left';
      ctx.textBaseline = 'middle';
      L.entries.forEach(([label, style], i) => {
        const ry = by + 9 + i * L.pitch;
        strokeSample(ctx, style, bx + L.s0, bx + L.s1, ry);
        ctx.fillStyle = '#000';
        ctx.fillText(label, bx + L.tx, ry);
      });
      ctx.restore();
    }
  };
}

function drawPanel(id, p, datasets) {
  const canvas = document.getElementById(id);
  const padL = p.plotLeft - p.canvasLeft, padT = 10, padR = 14, padB = 42;
  const w = padL + (p.plotRight - p.plotLeft) + padR;
  const h = padT + PLOT_H + padB;
  canvas.width = w; canvas.height = h;
  canvas.style.width = w + 'px'; canvas.style.height = h + 'px';
  canvas.style.left = p.canvasLeft + 'px';
  canvas.style.top = (p.plotTop - padT) + 'px';
  const tickFont = { family: SERIF, size: 14 };

  new Chart(canvas, {
    type: 'line',
    data: { datasets },
    options: {
      responsive: false,
      animation: false,
      devicePixelRatio: 1,
      events: [],
      layout: { padding: { left: 0, top: padT, right: padR, bottom: 0 } },
      plugins: { legend: { display: false }, tooltip: { enabled: false } },
      scales: {
        x: {
          type: 'linear', min: -6, max: 3,
          grid: { display: false, drawTicks: false }, border: { display: false },
          ticks: {
            stepSize: 1, autoSkip: false, maxRotation: 0, padding: 4, color: '#000', font: tickFont,
            callback: v => (v < 0 ? '\u2212' + Math.abs(v) : String(v))
          },
          afterFit: s => { s.height = padB; s.paddingLeft = 0; s.paddingRight = 0; }
        },
        y: {
          type: 'linear', min: p.yMin, max: p.yMax,
          grid: { display: false, drawTicks: false }, border: { display: false },
          ticks: {
            stepSize: p.yStep, autoSkip: false, padding: 4, color: '#000', font: tickFont,
            callback: v => v.toFixed(p.yDigits)
          },
          afterFit: s => { s.width = padL; s.paddingTop = 0; s.paddingBottom = 0; }
        }
      }
    },
    plugins: [decorPlugin(p)]
  });
}

const MAIN_BOX = { w: 150, h: 95, bottom: 6, pitch: 15.4, s0: 6, s1: 36, tx: 45, entries: MAIN_LEGEND };

drawPanel('wasp43', {
  canvasLeft: 0, plotLeft: 58, plotRight: 649, plotTop: 12,
  yMin: 2.328, yMax: 2.338, yStep: 0.002, yDigits: 3,
  name: { text: 'WASP-43b', x: -4.6, y: 2.3321 },
  legend: { ...MAIN_BOX, side: 'left' }
}, profileSets(W43_DAY, W43_NIGHT, W43_SUB, W43_ANTI, W43_EVE, W43_MORN, []));

drawPanel('wasp103', {
  canvasLeft: 676, plotLeft: 722, plotRight: 1325, plotTop: 12,
  yMin: 1.2, yMax: 2.4, yStep: 0.2, yDigits: 1,
  name: { text: 'WASP-103b', x: 1.43, y: 1.713 },
  legend: { ...MAIN_BOX, side: 'right' }
}, profileSets(W103_DAY, W103_NIGHT, W103_SUB, W103_ANTI, W103_EVE, W103_MORN, [0]));

drawPanel('wasp18', {
  canvasLeft: 0, plotLeft: 44, plotRight: 649, plotTop: 461,
  yMin: 1.2, yMax: 2.4, yStep: 0.2, yDigits: 1,
  name: { text: 'WASP-18b', x: 1.40, y: 1.71 },
  legend: { ...MAIN_BOX, side: 'right' }
}, profileSets(W18_DAY, W18_NIGHT, W18_SUB, W18_ANTI, W18_EVE, W18_MORN, [0]));

drawPanel('hatp7', {
  canvasLeft: 676, plotLeft: 722, plotRight: 1325, plotTop: 461,
  yMin: 1.2, yMax: 2.4, yStep: 0.2, yDigits: 1,
  name: { text: 'HAT-P-7b', x: 1.36, y: 1.71 },
  legend: { ...MAIN_BOX, side: 'right' }
}, profileSets(HP7_DAY, HP7_NIGHT, HP7_SUB, HP7_ANTI, HP7_EVE, HP7_MORN, [0]));

drawPanel('wasp121', {
  canvasLeft: 0, plotLeft: 44, plotRight: 649, plotTop: 910,
  yMin: 1.2, yMax: 2.4, yStep: 0.2, yDigits: 1,
  name: { text: 'WASP-121b', x: 1.44, y: 1.71 },
  legend: { ...MAIN_BOX, side: 'right' }
}, profileSets(W121_DAY, W121_NIGHT, W121_SUB, W121_ANTI, W121_EVE, W121_MORN, [0]));

drawPanel('averages', {
  canvasLeft: 676, plotLeft: 722, plotRight: 1325, plotTop: 910,
  yMin: 1.2, yMax: 2.4, yStep: 0.2, yDigits: 1,
  name: null,
  legend: { w: 145, h: 112, bottom: 7, pitch: 15.5, s0: 7, s1: 35, tx: 46, side: 'right', entries: AVG_LEGEND }
}, averageSets());
</script>
</body>
</html>
